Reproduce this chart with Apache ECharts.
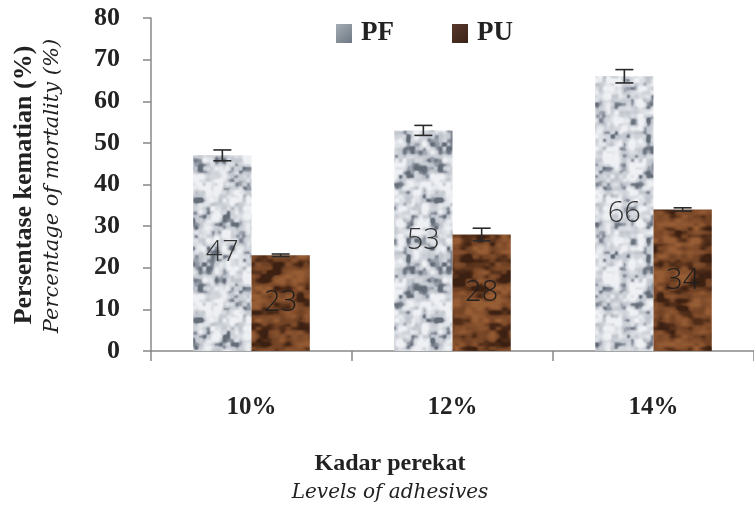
<!DOCTYPE html>
<html>
<head>
<meta charset="utf-8">
<script src="https://cdn.jsdelivr.net/npm/echarts@6/dist/echarts.min.js"></script>
<style>
  html, body { margin: 0; padding: 0; background: #fff; }
  #chart { width: 754px; height: 509px; }
</style>
</head>
<body>
<div id="chart"></div>
<script>
// data
var categories = ['10%', '12%', '14%'];
var pfValues = [47, 53, 66];
var puValues = [23, 28, 34];
var pfErrors = [1.3, 1.2, 1.6];
var puErrors = [0.3, 1.5, 0.4];
var yTicks = [0, 10, 20, 30, 40, 50, 60, 70, 80];

var serif = '"Liberation Serif", "Times New Roman", serif';
var serifItalic = '"DejaVu Serif", serif';

// seamless smooth noise tile, used for the stone / wood look of the bars
function hash(x, y, s) {
  var h = Math.sin(x * 12.9898 + y * 78.233 + s * 37.719) * 43758.5453;
  return h - Math.floor(h);
}
function smooth(t) { return t * t * (3 - 2 * t); }
function noiseAt(px, py, gw, gh, cw, ch, seed) {
  var gx = px / cw, gy = py / ch;
  var i0 = Math.floor(gx), j0 = Math.floor(gy);
  var fx = smooth(gx - i0), fy = smooth(gy - j0);
  var i1 = (i0 + 1) % gw, j1 = (j0 + 1) % gh;
  i0 = i0 % gw; j0 = j0 % gh;
  var a = hash(i0, j0, seed), b = hash(i1, j0, seed);
  var c = hash(i0, j1, seed), d = hash(i1, j1, seed);
  return (a * (1 - fx) + b * fx) * (1 - fy) + (c * (1 - fx) + d * fx) * fy;
}
function texture(size, seed, cw, ch, paint) {
  var cv = document.createElement('canvas');
  cv.width = size; cv.height = size;
  var ctx = cv.getContext('2d');
  var img = ctx.createImageData(size, size);
  for (var y = 0; y < size; y++) {
    for (var x = 0; x < size; x++) {
      var n1 = noiseAt(x, y, size / cw, size / ch, cw, ch, seed);
      var n2 = noiseAt(x, y, size / (cw / 2), size / (ch / 2), cw / 2, ch / 2, seed + 5);
      var col = paint(n1 * 0.6 + n2 * 0.4);
      var k = (y * size + x) * 4;
      img.data[k] = col[0]; img.data[k + 1] = col[1]; img.data[k + 2] = col[2]; img.data[k + 3] = 255;
    }
  }
  ctx.putImageData(img, 0, 0);
  return cv;
}
function mix(c1, c2, t) {
  t = Math.max(0, Math.min(1, t));
  return [c1[0] + (c2[0] - c1[0]) * t, c1[1] + (c2[1] - c1[1]) * t, c1[2] + (c2[2] - c1[2]) * t];
}
var stone = texture(120, 1, 8, 8, function (v) {
  if (v < 0.36) return mix([100, 108, 120], [170, 176, 186], (v - 0.2) / 0.16);
  return mix([188, 193, 201], [238, 240, 243], (v - 0.36) / 0.34);
});
var wood = texture(120, 2, 12, 8, function (v) {
  if (v < 0.4) return mix([60, 32, 18], [98, 56, 30], (v - 0.22) / 0.18);
  return mix([108, 62, 34], [150, 92, 52], (v - 0.4) / 0.35);
});

var errorData = [];
categories.forEach(function (c, i) {
  errorData.push([i, pfValues[i] - pfErrors[i], pfValues[i] + pfErrors[i], -1]);
  errorData.push([i, puValues[i] - puErrors[i], puValues[i] + puErrors[i], 1]);
});

var myChart = echarts.init(document.getElementById('chart'));
var option = {
  animation: false,
  grid: { left: 151, right: 0, top: 18, bottom: 158 },
  legend: {
    data: [
      { name: 'PF', itemStyle: { color: { type: 'linear', x: 0, y: 0, x2: 1, y2: 1,
        colorStops: [{ offset: 0, color: '#a4adb6' }, { offset: 1, color: '#6e7882' }] } } },
      { name: 'PU', itemStyle: { color: { type: 'linear', x: 0, y: 0, x2: 1, y2: 1,
        colorStops: [{ offset: 0, color: '#5a3a2c' }, { offset: 1, color: '#3a2218' }] } } }
    ],
    left: 331,
    top: 15,
    itemWidth: 16,
    itemHeight: 19,
    itemGap: 58,
    icon: 'rect',
    textStyle: { fontFamily: serif, fontWeight: 'bold', fontSize: 27, color: '#222', padding: [3, 0, 0, 4] }
  },
  xAxis: {
    type: 'category',
    data: categories,
    axisLine: { lineStyle: { color: '#888', width: 1.5 } },
    axisTick: { show: true, length: 10, lineStyle: { color: '#888', width: 1.5 } },
    axisLabel: { margin: 44, fontFamily: serif, fontWeight: 'bold', fontSize: 25, color: '#222' }
  },
  yAxis: {
    type: 'value',
    min: yTicks[0],
    max: yTicks[yTicks.length - 1],
    interval: 10,
    splitLine: { show: false },
    axisLine: { show: true, lineStyle: { color: '#888', width: 1.5 } },
    axisTick: { show: true, length: 8, lineStyle: { color: '#888', width: 1.5 } },
    axisLabel: { margin: 31, fontFamily: serif, fontWeight: 'bold', fontSize: 26, color: '#222' }
  },
  graphic: [
    { type: 'text', x: 24, y: 185, rotation: Math.PI / 2,
      style: { text: 'Persentase kematian (%)', align: 'center', verticalAlign: 'middle',
        font: 'bold 26px ' + serif, fill: '#222' } },
    { type: 'text', x: 53, y: 186, rotation: Math.PI / 2,
      style: { text: 'Percentage of mortality (%)', align: 'center', verticalAlign: 'middle',
        font: 'italic 21px ' + serifItalic, fill: '#222' } },
    { type: 'text', x: 390, y: 464,
      style: { text: 'Kadar perekat', align: 'center', verticalAlign: 'middle',
        font: 'bold 24px ' + serif, fill: '#222' } },
    { type: 'text', x: 390, y: 493,
      style: { text: 'Levels of adhesives', align: 'center', verticalAlign: 'middle',
        font: 'italic 20px ' + serifItalic, fill: '#222' } }
  ],
  series: [
    {
      name: 'PF',
      type: 'bar',
      data: pfValues,
      barGap: '0%',
      barCategoryGap: '42%',
      itemStyle: { color: { image: stone, repeat: 'repeat' } },
      label: { show: true, position: 'inside', fontFamily: '"Open Sans", sans-serif', fontWeight: 300,
        fontSize: 29, color: '#333' }
    },
    {
      name: 'PU',
      type: 'bar',
      data: puValues,
      barGap: '0%',
      barCategoryGap: '42%',
      itemStyle: { color: { image: wood, repeat: 'repeat' } },
      label: { show: true, position: 'inside', fontFamily: '"Open Sans", sans-serif', fontWeight: 300,
        fontSize: 29, color: '#1e1e1e' }
    },
    {
      name: 'err',
      type: 'custom',
      silent: true,
      z: 10,
      data: errorData,
      renderItem: function (params, api) {
        var band = api.size([1, 0])[0];
        var barW = band * 0.29;
        var x = api.coord([api.value(0), 0])[0] + api.value(3) * barW / 2;
        var lo = api.coord([api.value(0), api.value(1)])[1];
        var hi = api.coord([api.value(0), api.value(2)])[1];
        var cap = 9;
        var st = { stroke: '#2a2a2a', lineWidth: 1.6 };
        return {
          type: 'group',
          children: [
            { type: 'line', shape: { x1: x, y1: lo, x2: x, y2: hi }, style: st },
            { type: 'line', shape: { x1: x - cap, y1: hi, x2: x + cap, y2: hi }, style: st },
            { type: 'line', shape: { x1: x - cap, y1: lo, x2: x + cap, y2: lo }, style: st }
          ]
        };
      }
    }
  ]
};
myChart.setOption(option);
</script>
</body>
</html>
